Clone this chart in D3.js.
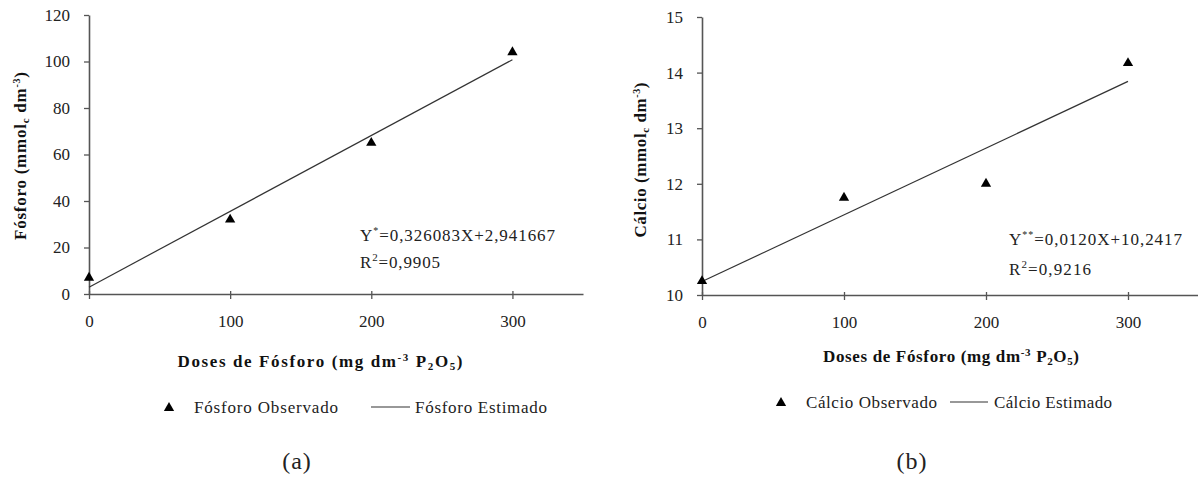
<!DOCTYPE html>
<html><head><meta charset="utf-8">
<script src="https://cdn.jsdelivr.net/npm/d3@7"></script>
<style>
body{margin:0;background:#fff;}
svg{font-family:"Liberation Serif","Times New Roman",serif;}
</style></head>
<body>
<svg id="c" width="1198" height="480"></svg>
<script>
const doses = [0, 100, 200, 300];
const xTicks = [0, 100, 200, 300];
const fosforoObs = [7, 32, 65, 104];
const fosforoFit = {a: 0.326083, b: 2.941667};
const fosforoTicks = [0, 20, 40, 60, 80, 100, 120];
const calcioObs = [10.25, 11.75, 12.0, 14.17];
const calcioFit = {a: 0.0120, b: 10.2417};
const calcioTicks = [10, 11, 12, 13, 14, 15];

const svg = d3.select("#c");

function fit(sel, len){ sel.attr("textLength", len).attr("lengthAdjust", "spacing"); return sel; }

function panel(cfg){
  const g = svg.append("g");
  const x = d3.scaleLinear().domain([0, 350]).range([cfg.x0, cfg.x1]);
  const y = d3.scaleLinear().domain(cfg.ydom).range([cfg.y0, cfg.y1]);
  const axisColor = "#555";
  const xa = g.append("g").attr("transform", `translate(0,${cfg.y0})`)
    .call(d3.axisBottom(x).tickValues(xTicks).tickFormat(d3.format("d")).tickSize(5).tickPadding(16).tickSizeOuter(0));
  xa.select(".domain").attr("stroke", axisColor).attr("stroke-width", 1.6);
  xa.selectAll(".tick line").attr("stroke", axisColor).attr("stroke-width", 1.3).attr("y1", -3);
  xa.selectAll(".tick text").attr("font-family", "Liberation Serif").attr("font-size", 17).attr("fill", "#222");
  const ya = g.append("g").attr("transform", `translate(${cfg.x0},0)`)
    .call(d3.axisLeft(y).tickValues(cfg.yticks).tickFormat(d3.format("d")).tickSize(5).tickPadding(14).tickSizeOuter(0));
  ya.select(".domain").attr("stroke", axisColor).attr("stroke-width", 1.6);
  ya.selectAll(".tick line").attr("stroke", axisColor).attr("stroke-width", 1.3);
  ya.selectAll(".tick text").attr("font-family", "Liberation Serif").attr("font-size", 17).attr("fill", "#222");

  const fitPts = [0, 300].map(d => [d, cfg.fit.a * d + cfg.fit.b]);
  g.append("path").datum(fitPts)
    .attr("d", d3.line().x(d => x(d[0])).y(d => y(d[1])))
    .attr("fill", "none").attr("stroke", "#333").attr("stroke-width", 1.2);

  const tri = d3.symbol().type(d3.symbolTriangle).size(46);
  g.selectAll("path.pt").data(doses).join("path").attr("class", "pt")
    .attr("d", tri)
    .attr("transform", (d, i) => `translate(${x(d)},${y(cfg.obs[i])})`)
    .attr("fill", "#000");

  const yt = g.append("text")
    .attr("transform", `translate(${cfg.ytx},${cfg.yty}) rotate(-90)`)
    .attr("text-anchor", "middle").attr("font-weight", "bold").attr("font-size", 17).attr("fill", "#111");
  fit(yt, cfg.ytLen);
  yt.append("tspan").text(cfg.yname + " (mmol");
  yt.append("tspan").text("c").attr("font-size", 11).attr("dy", 3);
  yt.append("tspan").text(" dm").attr("dy", -3);
  yt.append("tspan").text("-3").attr("font-size", 10).attr("dy", -6);
  yt.append("tspan").text(")").attr("dy", 6);

  const xt = g.append("text").attr("x", cfg.xtx).attr("y", cfg.xty)
    .attr("text-anchor", "middle").attr("font-weight", "bold").attr("font-size", 17).attr("fill", "#111");
  fit(xt, cfg.xtLen);
  xt.append("tspan").text("Doses de Fósforo (mg dm");
  xt.append("tspan").text("-3").attr("font-size", 11).attr("dy", -6);
  xt.append("tspan").text(" P").attr("dy", 6);
  xt.append("tspan").text("2").attr("font-size", 11).attr("dy", 3);
  xt.append("tspan").text("O").attr("dy", -3);
  xt.append("tspan").text("5").attr("font-size", 11).attr("dy", 3);
  xt.append("tspan").text(")").attr("dy", -3);

  const eq = g.append("text").attr("x", cfg.eqx).attr("y", cfg.eqy)
    .attr("font-size", 17).attr("fill", "#222");
  fit(eq, cfg.eqLen);
  eq.append("tspan").text("Y");
  eq.append("tspan").text(cfg.star).attr("font-size", 10).attr("dy", -7);
  eq.append("tspan").text(cfg.eqText).attr("dy", 7);
  const r2 = g.append("text").attr("x", cfg.eqx).attr("y", cfg.r2y)
    .attr("font-size", 17).attr("fill", "#222");
  fit(r2, cfg.r2Len);
  r2.append("tspan").text("R");
  r2.append("tspan").text("2").attr("font-size", 11).attr("dy", -7);
  r2.append("tspan").text(cfg.r2Text).attr("dy", 7);

  g.append("path").attr("d", tri).attr("transform", `translate(${cfg.lgTri},${cfg.lgy - 5})`).attr("fill", "#000");
  fit(g.append("text").attr("x", cfg.lgT1).attr("y", cfg.lgy).attr("font-size", 17).attr("fill", "#222").text(cfg.obsLabel), cfg.lg1Len);
  g.append("line").attr("x1", cfg.lgL1).attr("x2", cfg.lgL2).attr("y1", cfg.lgy - 6).attr("y2", cfg.lgy - 6)
    .attr("stroke", "#333").attr("stroke-width", 1.2);
  fit(g.append("text").attr("x", cfg.lgT2).attr("y", cfg.lgy).attr("font-size", 17).attr("fill", "#222").text(cfg.fitLabel), cfg.lg2Len);

  g.append("text").attr("x", cfg.plx).attr("y", 469).attr("text-anchor", "middle")
    .attr("font-size", 24).attr("fill", "#222").attr("letter-spacing", 1).text(cfg.plabel);
}

panel({x0: 89, x1: 583, y0: 294, y1: 15, ydom: [0, 120], yticks: fosforoTicks,
  obs: fosforoObs, fit: fosforoFit, yname: "Fósforo", ytx: 26, yty: 156, ytLen: 168,
  xtx: 320, xty: 367, xtLen: 285, eqx: 360, eqy: 241, r2y: 268, eqLen: 195, r2Len: 80, star: "*",
  eqText: "=0,326083X+2,941667", r2Text: "=0,9905",
  lgTri: 169, lgT1: 194, lgL1: 371, lgL2: 410, lgT2: 415, lgy: 413, lg1Len: 144, lg2Len: 132,
  obsLabel: "Fósforo Observado", fitLabel: "Fósforo Estimado", plx: 297, plabel: "(a)"});

panel({x0: 702, x1: 1199, y0: 295, y1: 17, ydom: [10, 15], yticks: calcioTicks,
  obs: calcioObs, fit: calcioFit, yname: "Cálcio", ytx: 646, yty: 160, ytLen: 155,
  xtx: 951, xty: 362, xtLen: 256, eqx: 1009, eqy: 245, r2y: 275, eqLen: 173, r2Len: 82, star: "**",
  eqText: "=0,0120X+10,2417", r2Text: "=0,9216",
  lgTri: 781, lgT1: 806, lgL1: 950, lgL2: 988, lgT2: 994, lgy: 408, lg1Len: 131, lg2Len: 118,
  obsLabel: "Cálcio Observado", fitLabel: "Cálcio Estimado", plx: 912, plabel: "(b)"});
</script>
</body></html>
